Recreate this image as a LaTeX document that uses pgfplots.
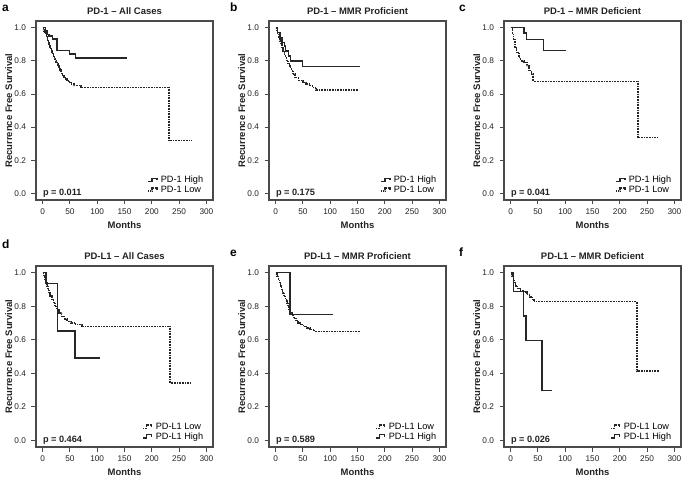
\documentclass[border=0pt]{standalone}
\usepackage{pgfplots}
\pgfplotsset{compat=1.18}
\usepackage{fontspec}
\setmainfont{Liberation Sans}

\definecolor{curve}{HTML}{262626}
\definecolor{frame}{HTML}{4A4A4A}
\definecolor{txt}{HTML}{222222}

\pgfplotsset{
  km/.style={
    scale only axis, width=177bp, height=179bp, anchor=south west,
    xmin=-12, xmax=312, ymin=-0.04, ymax=1.04,
    xtick={0,50,100,150,200,250,300}, ytick={0,0.2,0.4,0.6,0.8,1},
    yticklabel style={xshift=-2bp, /pgf/number format/.cd, fixed, fixed zerofill, precision=1},
    /pgf/number format/assume math mode=true,
    tick align=outside, tick pos=left, major tick length=4.5bp,
    tick style={frame, line width=0.8bp},
    axis line style={frame, line width=1.1bp},
    ticklabel style={font=\fontsize{8.3}{10}\selectfont, text=txt},
    xticklabel style={yshift=-1bp},
    xlabel={Months}, ylabel={Recurrence Free Survival},
    xlabel shift=-0.5bp, ylabel shift=-4.5bp,
    label style={font=\bfseries\fontsize{9.5}{11}\selectfont, text=txt},
    title style={font=\bfseries\fontsize{9.5}{11}\selectfont, text=txt, yshift=-3.5bp},
    legend style={at={(rel axis cs:0.95,0.03)}, anchor=south east,
      draw=none, fill=none, font=\fontsize{9.2}{10}\selectfont,
      row sep=0bp, inner sep=0pt, nodes={inner sep=0.8bp}, cells={anchor=west}},
    legend image code/.code={\draw[#1] (0bp,-1.5bp) -- (3.5bp,-1.5bp) -- (3.5bp,1.8bp) -- (8.5bp,1.8bp) -- (8.5bp,-0.2bp); \path (11bp,0bp);},
  },
  hi/.style={const plot, curve, line width=1.5bp, no marks},
  lo/.style={const plot, curve, line width=1.5bp, dash pattern=on 0.8bp off 0.8bp, no marks},
}
\tikzset{pval/.style={font=\bfseries\fontsize{9.2}{10}\selectfont, text=txt, anchor=west}}

\begin{document}
\begin{tikzpicture}
\path[use as bounding box] (0bp,0bp) rectangle (685bp,477bp);

% panel letters
\node[anchor=base west, font=\bfseries\fontsize{12}{14}\selectfont, inner sep=0] at (2bp,465bp) {a};
\node[anchor=base west, font=\bfseries\fontsize{12}{14}\selectfont, inner sep=0] at (230bp,465bp) {b};
\node[anchor=base west, font=\bfseries\fontsize{12}{14}\selectfont, inner sep=0] at (459bp,465bp) {c};
\node[anchor=base west, font=\bfseries\fontsize{12}{14}\selectfont, inner sep=0] at (2bp,228bp) {d};
\node[anchor=base west, font=\bfseries\fontsize{12}{14}\selectfont, inner sep=0] at (230bp,220bp) {e};
\node[anchor=base west, font=\bfseries\fontsize{12}{14}\selectfont, inner sep=0] at (459bp,220bp) {f};

% a
\begin{axis}[km, at={(36bp,277bp)}, title={PD-1 -- All Cases}]
\addplot[hi] coordinates {(0,1)(5,0.98)(8,0.96)(12,0.95)(18,0.93)(26,0.863)(49,0.841)(60,0.816)(155,0.816)};
\addlegendentry{PD-1 High}
\addplot[lo] coordinates {(0,1)(2,0.99)(3,0.98)(4,0.97)(5,0.96)(7,0.95)(8,0.94)(9,0.93)(10,0.92)(11,0.91)(12,0.90)(13,0.89)(14,0.88)(15,0.87)(16,0.86)(17,0.85)(18,0.84)(20,0.83)(21,0.82)(22,0.81)(24,0.80)(25,0.79)(27,0.78)(28,0.77)(30,0.76)(32,0.745)(34,0.73)(35,0.72)(37,0.71)(39,0.70)(42,0.69)(45,0.68)(48,0.67)(52,0.66)(58,0.65)(70,0.639)(231,0.32)(272,0.32)};
\addlegendentry{PD-1 Low}
\node[pval] at (rel axis cs:0.02,0.04) {p = 0.011};
\end{axis}

% b
\begin{axis}[km, at={(269bp,277bp)}, title={PD-1 -- MMR Proficient}]
\addplot[hi] coordinates {(0,1)(4,0.97)(8,0.94)(12,0.91)(16,0.89)(18,0.86)(24,0.83)(27,0.80)(49,0.765)(154,0.765)};
\addlegendentry{PD-1 High}
\addplot[lo] coordinates {(0,1)(2,0.98)(4,0.96)(6,0.94)(8,0.92)(10,0.90)(12,0.88)(14,0.86)(16,0.84)(18,0.82)(20,0.80)(23,0.78)(26,0.76)(29,0.74)(32,0.72)(36,0.70)(42,0.68)(50,0.67)(56,0.66)(62,0.65)(68,0.64)(74,0.625)(150,0.625)};
\addlegendentry{PD-1 Low}
\node[pval] at (rel axis cs:0.02,0.04) {p = 0.175};
\end{axis}

% c
\begin{axis}[km, at={(504bp,277bp)}, title={PD-1 -- MMR Deficient}]
\addplot[hi] coordinates {(0,1)(25,0.969)(29,0.928)(60,0.863)(101,0.863)};
\addlegendentry{PD-1 High}
\addplot[lo] coordinates {(0,1)(4,0.96)(5,0.93)(8,0.88)(11,0.85)(15,0.82)(18,0.80)(25,0.79)(30,0.77)(34,0.74)(38,0.72)(41,0.676)(233,0.338)(270,0.338)};
\addlegendentry{PD-1 Low}
\node[pval] at (rel axis cs:0.02,0.04) {p = 0.041};
\end{axis}

% d
\begin{axis}[km, at={(36bp,30bp)}, height=181bp, title={PD-L1 -- All Cases}]
\addplot[lo] coordinates {(0,1)(2,0.98)(4,0.96)(6,0.94)(8,0.92)(10,0.90)(12,0.88)(14,0.86)(17,0.84)(20,0.82)(23,0.80)(26,0.78)(30,0.76)(35,0.74)(40,0.725)(45,0.71)(52,0.70)(60,0.69)(72,0.68)(233,0.341)(271,0.341)};
\addlegendentry{PD-L1 Low}
\addplot[hi] coordinates {(0,1)(6,0.935)(27,0.653)(59,0.49)(105,0.49)};
\addlegendentry{PD-L1 High}
\node[pval] at (rel axis cs:0.02,0.04) {p = 0.464};
\end{axis}

% e
\begin{axis}[km, at={(269bp,30bp)}, height=181bp, title={PD-L1 -- MMR Proficient}]
\addplot[lo] coordinates {(0,1)(3,0.98)(5,0.96)(7,0.94)(9,0.92)(11,0.90)(13,0.88)(15,0.86)(18,0.84)(21,0.82)(23,0.80)(25,0.78)(27,0.76)(30,0.745)(33,0.73)(37,0.715)(41,0.70)(46,0.69)(51,0.68)(57,0.67)(63,0.66)(70,0.65)(154,0.65)};
\addlegendentry{PD-L1 Low}
\addplot[hi] coordinates {(0,1)(26,0.751)(105,0.751)};
\addlegendentry{PD-L1 High}
\node[pval] at (rel axis cs:0.02,0.04) {p = 0.589};
\end{axis}

% f
\begin{axis}[km, at={(504bp,30bp)}, height=181bp, title={PD-L1 -- MMR Deficient}]
\addplot[lo] coordinates {(0,1)(3,0.98)(5,0.96)(7,0.94)(9,0.92)(13,0.905)(18,0.895)(25,0.885)(30,0.87)(35,0.855)(40,0.84)(43,0.827)(231,0.412)(271,0.412)};
\addlegendentry{PD-L1 Low}
\addplot[hi] coordinates {(0,1)(5,0.888)(24,0.741)(28,0.596)(58,0.296)(75,0.296)};
\addlegendentry{PD-L1 High}
\node[pval] at (rel axis cs:0.02,0.04) {p = 0.026};
\end{axis}
\end{tikzpicture}
\end{document}
